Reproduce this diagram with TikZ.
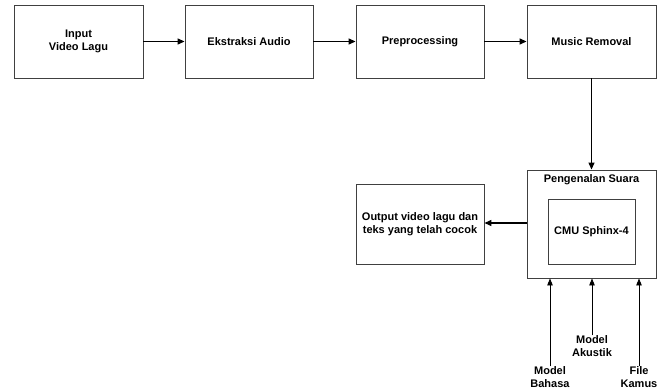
\documentclass[tikz,border=0pt]{standalone}
\usepackage{fontspec}
\setmainfont{Liberation Sans}
\usetikzlibrary{arrows.meta}
\begin{document}
\begin{tikzpicture}[x=1pt,y=-1pt,
  blok/.style={draw=black!75,line width=0.9pt,fill=white,inner sep=0pt,
    font=\fontsize{11}{13}\selectfont\bfseries,align=center},
  panah/.style={line width=1.3pt,-{Triangle[length=7pt,width=6pt]}},
  panahtipis/.style={line width=0.9pt,-{Triangle[length=7pt,width=5.5pt]}},
  lbl/.style={font=\fontsize{11}{13}\selectfont\bfseries,align=center,inner sep=0pt}]
\useasboundingbox (0,0) rectangle (661,390);
% top row of processing steps
\node[blok,minimum width=129pt,minimum height=73pt] (input) at (78.5,41.5) {Input\\Video Lagu};
\node[blok,minimum width=128pt,minimum height=73pt] (ekstraksi) at (249,41.5) {Ekstraksi Audio};
\node[blok,minimum width=128pt,minimum height=73pt] (pre) at (420,41.5) {Preprocessing};
\node[blok,minimum width=129pt,minimum height=73pt] (music) at (591.5,41.5) {Music Removal};
% speech recognition block with the engine inside
\node[blok,minimum width=129pt,minimum height=108pt] (suara) at (591.5,224) {};
\node[lbl] (suaralbl) at (591.5,180) {Pengenalan Suara};
\node[blok,minimum width=87pt,minimum height=65pt] (cmu) at (591.5,231.5) {CMU Sphinx-4};
% result
\node[blok,minimum width=128pt,minimum height=80pt] (output) at (420,224) {Output video lagu dan\\teks yang telah cocok};
% resource labels under the block
\node[lbl] (bahasa) at (550,377) {Model\\Bahasa};
\node[lbl] (akustik) at (592,346) {Model\\Akustik};
\node[lbl] (kamus) at (639,377) {File\\Kamus};
% connectors
\draw[panah] (input) -- (ekstraksi);
\draw[panah] (ekstraksi) -- (pre);
\draw[panah] (pre) -- (music);
\draw[panah] (music.south) -- (suara.north);
\draw[panah] (suara.west |- 0,223) -- (output.east |- 0,223);
\draw[panahtipis] (bahasa.north) -- (bahasa.north |- suara.south);
\draw[panahtipis] (akustik.north) -- (akustik.north |- suara.south);
\draw[panahtipis] (kamus.north) -- (kamus.north |- suara.south);
\end{tikzpicture}
\end{document}
